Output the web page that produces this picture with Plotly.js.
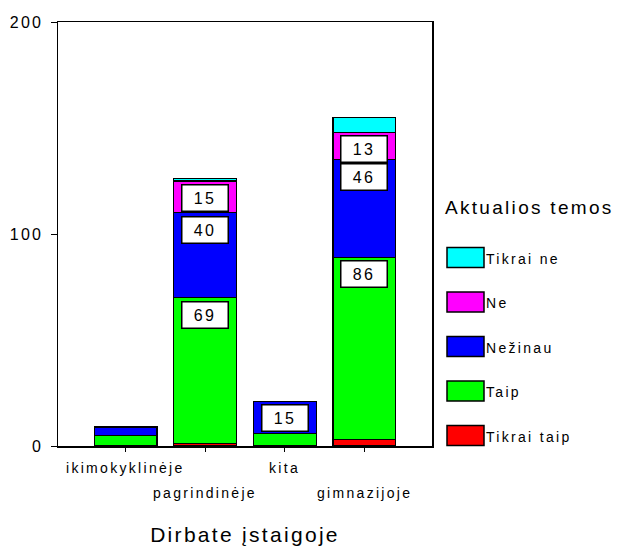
<!DOCTYPE html>
<html>
<head>
<meta charset="utf-8">
<script src="https://cdn.plot.ly/plotly-3.0.1.min.js"></script>
<style>
  html, body { margin: 0; padding: 0; background: #fff; }
  #chart { width: 625px; height: 550px; }
  svg text { letter-spacing: 2.3px; }
</style>
</head>
<body>
<div id="chart"></div>
<script>
// ---- data ----
const categories = ['ikimokyklinėje', 'pagrindinėje', 'kita', 'gimnazijoje'];
const seriesNames = ['Tikrai taip', 'Taip', 'Nežinau', 'Ne', 'Tikrai ne'];
const tikraiTaip = [0, 1, 0, 3];
const taip = [5, 69, 6, 86];
const nezinau = [4, 40, 15, 46];
const ne = [0, 15, 0, 13];
const tikraiNe = [0, 1, 0, 7];
const seriesColors = ['#FF0000', '#00FF00', '#0000FF', '#FF00FF', '#00FFFF'];
const yTicks = [0, 100, 200];
const xTitle = 'Dirbate įstaigoje';
const legendTitle = 'Aktualios temos';

const seriesValues = [tikraiTaip, taip, nezinau, ne, tikraiNe];

// ---- geometry helpers (plot area in pixels) ----
const plotL = 58, plotR = 432, plotT = 22, plotB = 446;
const px = x => (x - plotL) / (plotR - plotL);
const py = y => (plotB - y) / (plotB - plotT);

const traces = seriesNames.map((name, s) => ({
  type: 'bar',
  name: name,
  x: categories,
  y: seriesValues[s],
  marker: { color: seriesColors[s], line: { color: '#000', width: 1.2 } },
  width: 0.79,
  hoverinfo: 'none',
  showlegend: false
}));

const annotations = [];
const shapes = [];

// value labels
const cum = categories.map(() => 0);
seriesValues.forEach((vals, s) => {
  vals.forEach((v, i) => {
    cum[i] += v;
    if (v >= 10) {
      annotations.push({
        x: categories[i], y: cum[i], xref: 'x', yref: 'y',
        yanchor: 'top', yshift: -3, showarrow: false,
        text: String(v),
        font: { family: 'Liberation Sans, Arial, sans-serif', size: 16, color: '#000' },
        bgcolor: '#fff', bordercolor: '#000', borderwidth: 1.5, borderpad: 1,
        width: 43, height: 23
      });
    }
  });
});

// staggered category labels
categories.forEach((c, i) => {
  annotations.push({
    x: c, y: 0, xref: 'x', yref: 'paper', yanchor: 'top',
    yshift: i % 2 === 0 ? -12 : -37, showarrow: false, text: c,
    font: { family: 'Liberation Sans, Arial, sans-serif', size: 14, color: '#000' }
  });
});

// custom legend
annotations.push({
  x: px(443), y: py(207), xref: 'paper', yref: 'paper', xanchor: 'left', yanchor: 'middle',
  showarrow: false, text: legendTitle,
  font: { family: 'Liberation Sans, Arial, sans-serif', size: 19, color: '#000' }
});
const legendOrder = [4, 3, 2, 1, 0];
legendOrder.forEach((s, k) => {
  const cy = 257.5 + k * 44.5;
  shapes.push({
    type: 'rect', xref: 'paper', yref: 'paper',
    x0: px(447), x1: px(484), y0: py(cy + 10), y1: py(cy - 10),
    fillcolor: seriesColors[s], line: { color: '#000', width: 1.5 }
  });
  annotations.push({
    x: px(484), y: py(cy + 1), xref: 'paper', yref: 'paper', xanchor: 'left', yanchor: 'middle',
    showarrow: false, text: seriesNames[s],
    font: { family: 'Liberation Sans, Arial, sans-serif', size: 14, color: '#000' }
  });
});

const layout = {
  width: 625, height: 550,
  margin: { l: plotL, r: 625 - plotR, t: plotT, b: 550 - plotB },
  paper_bgcolor: '#fff', plot_bgcolor: '#fff',
  barmode: 'stack',
  showlegend: false,
  font: { family: 'Liberation Sans, Arial, sans-serif', color: '#000' },
  xaxis: {
    type: 'category', range: [-0.85, 3.85],
    showline: true, mirror: true, linecolor: '#000', linewidth: 1.5,
    ticks: 'outside', ticklen: 4, tickcolor: '#000',
    showticklabels: false, showgrid: false, zeroline: false,
    title: { text: xTitle, font: { size: 21, color: '#000' }, standoff: 77 },
    fixedrange: true
  },
  yaxis: {
    range: [0, 200], tickvals: yTicks, ticktext: yTicks.map(String),
    showline: true, mirror: true, linecolor: '#000', linewidth: 1.5,
    ticks: 'outside', ticklen: 6, tickcolor: '#000',
    tickfont: { size: 16, color: '#000' }, ticklabelstandoff: 4,
    showgrid: false, zeroline: false, fixedrange: true
  },
  annotations: annotations,
  shapes: shapes
};

Plotly.newPlot('chart', traces, layout, { staticPlot: true, displayModeBar: false });
</script>
</body>
</html>
